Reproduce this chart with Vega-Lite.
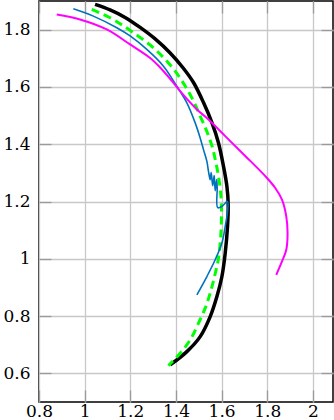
{
  "$schema": "https://vega.github.io/schema/vega-lite/v6.json",
  "width": 294,
  "height": 401,
  "autosize": {"type": "none"},
  "padding": {"left": 39, "top": 1, "right": 1, "bottom": 18},
  "config": {
    "view": {"stroke": "black", "strokeWidth": 1.5},
    "axis": {
      "domain": false,
      "gridColor": "#c8c8c8",
      "gridWidth": 1.3,
      "tickColor": "#9a9a9a",
      "tickSize": -12,
      "tickWidth": 1.3,
      "labelFont": "DejaVu Serif",
      "labelFontSize": 17,
      "labelColor": "black",
      "labelFlush": false,
      "title": null
    }
  },
  "data": {
    "values": [
      {"s": "black", "i": 0, "x": 1.0456, "y": 1.8881},
      {"s": "black", "i": 1, "x": 1.1114, "y": 1.8689},
      {"s": "black", "i": 2, "x": 1.1772, "y": 1.8427},
      {"s": "black", "i": 3, "x": 1.2430, "y": 1.8077},
      {"s": "black", "i": 4, "x": 1.3088, "y": 1.7675},
      {"s": "black", "i": 5, "x": 1.3746, "y": 1.7185},
      {"s": "black", "i": 6, "x": 1.4316, "y": 1.6661},
      {"s": "black", "i": 7, "x": 1.4768, "y": 1.6154},
      {"s": "black", "i": 8, "x": 1.5206, "y": 1.5455},
      {"s": "black", "i": 9, "x": 1.5575, "y": 1.4755},
      {"s": "black", "i": 10, "x": 1.5864, "y": 1.4045},
      {"s": "black", "i": 11, "x": 1.6083, "y": 1.3227},
      {"s": "black", "i": 12, "x": 1.6232, "y": 1.2528},
      {"s": "black", "i": 13, "x": 1.6289, "y": 1.1888},
      {"s": "black", "i": 14, "x": 1.6259, "y": 1.1129},
      {"s": "black", "i": 15, "x": 1.6158, "y": 1.0199},
      {"s": "black", "i": 16, "x": 1.6013, "y": 0.9381},
      {"s": "black", "i": 17, "x": 1.5794, "y": 0.8682},
      {"s": "black", "i": 18, "x": 1.5500, "y": 0.7983},
      {"s": "black", "i": 19, "x": 1.5061, "y": 0.7283},
      {"s": "black", "i": 20, "x": 1.4478, "y": 0.6759},
      {"s": "black", "i": 21, "x": 1.3746, "y": 0.6294},

      {"s": "green", "i": 0, "x": 1.0311, "y": 1.8706},
      {"s": "green", "i": 1, "x": 1.1114, "y": 1.8416},
      {"s": "green", "i": 2, "x": 1.1640, "y": 1.8164},
      {"s": "green", "i": 3, "x": 1.2211, "y": 1.7850},
      {"s": "green", "i": 4, "x": 1.2868, "y": 1.7465},
      {"s": "green", "i": 5, "x": 1.3452, "y": 1.7028},
      {"s": "green", "i": 6, "x": 1.3965, "y": 1.6549},
      {"s": "green", "i": 7, "x": 1.4404, "y": 1.6031},
      {"s": "green", "i": 8, "x": 1.4768, "y": 1.5507},
      {"s": "green", "i": 9, "x": 1.5061, "y": 1.4983},
      {"s": "green", "i": 10, "x": 1.5355, "y": 1.4441},
      {"s": "green", "i": 11, "x": 1.5575, "y": 1.3951},
      {"s": "green", "i": 12, "x": 1.5741, "y": 1.3392},
      {"s": "green", "i": 13, "x": 1.5873, "y": 1.2832},
      {"s": "green", "i": 14, "x": 1.5961, "y": 1.2273},
      {"s": "green", "i": 15, "x": 1.5996, "y": 1.1713},
      {"s": "green", "i": 16, "x": 1.5969, "y": 1.0899},
      {"s": "green", "i": 17, "x": 1.5864, "y": 1.0024},
      {"s": "green", "i": 18, "x": 1.5689, "y": 0.9381},
      {"s": "green", "i": 19, "x": 1.5500, "y": 0.8801},
      {"s": "green", "i": 20, "x": 1.5281, "y": 0.8276},
      {"s": "green", "i": 21, "x": 1.4987, "y": 0.7752},
      {"s": "green", "i": 22, "x": 1.4623, "y": 0.7168},
      {"s": "green", "i": 23, "x": 1.4184, "y": 0.6703},
      {"s": "green", "i": 24, "x": 1.3671, "y": 0.6269},

      {"s": "blue", "i": 0, "x": 0.9504, "y": 1.8731},
      {"s": "blue", "i": 1, "x": 1.0382, "y": 1.8472},
      {"s": "blue", "i": 2, "x": 1.1408, "y": 1.8066},
      {"s": "blue", "i": 3, "x": 1.1991, "y": 1.7780},
      {"s": "blue", "i": 4, "x": 1.2724, "y": 1.7308},
      {"s": "blue", "i": 5, "x": 1.3452, "y": 1.6724},
      {"s": "blue", "i": 6, "x": 1.4039, "y": 1.6024},
      {"s": "blue", "i": 7, "x": 1.4478, "y": 1.5444},
      {"s": "blue", "i": 8, "x": 1.4842, "y": 1.4745},
      {"s": "blue", "i": 9, "x": 1.5061, "y": 1.4220},
      {"s": "blue", "i": 10, "x": 1.5206, "y": 1.3811},
      {"s": "blue", "i": 11, "x": 1.5355, "y": 1.3402},
      {"s": "blue", "i": 12, "x": 1.5425, "y": 1.3052},
      {"s": "blue", "i": 13, "x": 1.5500, "y": 1.2762},
      {"s": "blue", "i": 14, "x": 1.5544, "y": 1.3007},
      {"s": "blue", "i": 15, "x": 1.5610, "y": 1.2552},
      {"s": "blue", "i": 16, "x": 1.5675, "y": 1.2902},
      {"s": "blue", "i": 17, "x": 1.5719, "y": 1.2378},
      {"s": "blue", "i": 18, "x": 1.5785, "y": 1.2762},
      {"s": "blue", "i": 19, "x": 1.5807, "y": 1.2483},
      {"s": "blue", "i": 20, "x": 1.5829, "y": 1.1783},
      {"s": "blue", "i": 21, "x": 1.6026, "y": 1.1836},
      {"s": "blue", "i": 22, "x": 1.6259, "y": 1.2003},
      {"s": "blue", "i": 23, "x": 1.6268, "y": 1.1713},
      {"s": "blue", "i": 24, "x": 1.6158, "y": 1.1129},
      {"s": "blue", "i": 25, "x": 1.6013, "y": 1.0549},
      {"s": "blue", "i": 26, "x": 1.5719, "y": 0.9965},
      {"s": "blue", "i": 27, "x": 1.5355, "y": 0.9381},
      {"s": "blue", "i": 28, "x": 1.4917, "y": 0.8741},

      {"s": "magenta", "i": 0, "x": 0.8776, "y": 1.8531},
      {"s": "magenta", "i": 1, "x": 0.9798, "y": 1.8357},
      {"s": "magenta", "i": 2, "x": 1.0969, "y": 1.8007},
      {"s": "magenta", "i": 3, "x": 1.1991, "y": 1.7483},
      {"s": "magenta", "i": 4, "x": 1.2868, "y": 1.7010},
      {"s": "magenta", "i": 5, "x": 1.3307, "y": 1.6678},
      {"s": "magenta", "i": 6, "x": 1.3890, "y": 1.6143},
      {"s": "magenta", "i": 7, "x": 1.4184, "y": 1.5850},
      {"s": "magenta", "i": 8, "x": 1.4917, "y": 1.5210},
      {"s": "magenta", "i": 9, "x": 1.5355, "y": 1.4913},
      {"s": "magenta", "i": 10, "x": 1.6158, "y": 1.4283},
      {"s": "magenta", "i": 11, "x": 1.7035, "y": 1.3591},
      {"s": "magenta", "i": 12, "x": 1.7987, "y": 1.2822},
      {"s": "magenta", "i": 13, "x": 1.8351, "y": 1.2472},
      {"s": "magenta", "i": 14, "x": 1.8645, "y": 1.2063},
      {"s": "magenta", "i": 15, "x": 1.8833, "y": 1.1479},
      {"s": "magenta", "i": 16, "x": 1.8890, "y": 1.0899},
      {"s": "magenta", "i": 17, "x": 1.8833, "y": 1.0315},
      {"s": "magenta", "i": 18, "x": 1.8645, "y": 0.9906},
      {"s": "magenta", "i": 19, "x": 1.8395, "y": 0.9441}
    ]
  },
  "layer": [
    {
      "transform": [{"filter": "datum.s === 'black'"}],
      "mark": {"type": "line", "color": "black", "strokeWidth": 3.5, "interpolate": "catmull-rom"},
      "encoding": {
        "x": {"field": "x", "type": "quantitative",
              "scale": {"domain": [0.8, 2.088], "zero": false, "nice": false},
              "axis": {"orient": "bottom", "values": [0.8, 1, 1.2, 1.4, 1.6, 1.8, 2], "format": ".1~f", "grid": true, "labelPadding": 13}},
        "y": {"field": "y", "type": "quantitative",
              "scale": {"domain": [0.5, 1.9], "zero": false, "nice": false},
              "axis": {"orient": "left", "values": [0.6, 0.8, 1, 1.2, 1.4, 1.6, 1.8], "format": ".1~f", "grid": true, "labelPadding": 21}},
        "order": {"field": "i", "type": "quantitative"}
      }
    },
    {
      "transform": [{"filter": "datum.s === 'green'"}],
      "mark": {"type": "line", "color": "#00ff00", "strokeWidth": 3, "strokeDash": [8, 5], "interpolate": "catmull-rom"},
      "encoding": {
        "x": {"field": "x", "type": "quantitative",
              "scale": {"domain": [0.8, 2.088], "zero": false, "nice": false},
              "axis": {"orient": "top", "values": [0.8, 1, 1.2, 1.4, 1.6, 1.8, 2], "labels": false, "grid": false}},
        "y": {"field": "y", "type": "quantitative",
              "scale": {"domain": [0.5, 1.9], "zero": false, "nice": false},
              "axis": {"orient": "right", "values": [0.6, 0.8, 1, 1.2, 1.4, 1.6, 1.8], "labels": false, "grid": false}},
        "order": {"field": "i", "type": "quantitative"}
      }
    },
    {
      "transform": [{"filter": "datum.s === 'blue'"}],
      "mark": {"type": "line", "color": "#0072bd", "strokeWidth": 1.6, "interpolate": "catmull-rom"},
      "encoding": {
        "x": {"field": "x", "type": "quantitative", "scale": {"domain": [0.8, 2.088], "zero": false, "nice": false}, "axis": null},
        "y": {"field": "y", "type": "quantitative", "scale": {"domain": [0.5, 1.9], "zero": false, "nice": false}, "axis": null},
        "order": {"field": "i", "type": "quantitative"}
      }
    },
    {
      "transform": [{"filter": "datum.s === 'magenta'"}],
      "mark": {"type": "line", "color": "#ff00ff", "strokeWidth": 2, "interpolate": "catmull-rom"},
      "encoding": {
        "x": {"field": "x", "type": "quantitative", "scale": {"domain": [0.8, 2.088], "zero": false, "nice": false}, "axis": null},
        "y": {"field": "y", "type": "quantitative", "scale": {"domain": [0.5, 1.9], "zero": false, "nice": false}, "axis": null},
        "order": {"field": "i", "type": "quantitative"}
      }
    }
  ],
  "resolve": {"axis": {"x": "independent", "y": "independent"}}
}
